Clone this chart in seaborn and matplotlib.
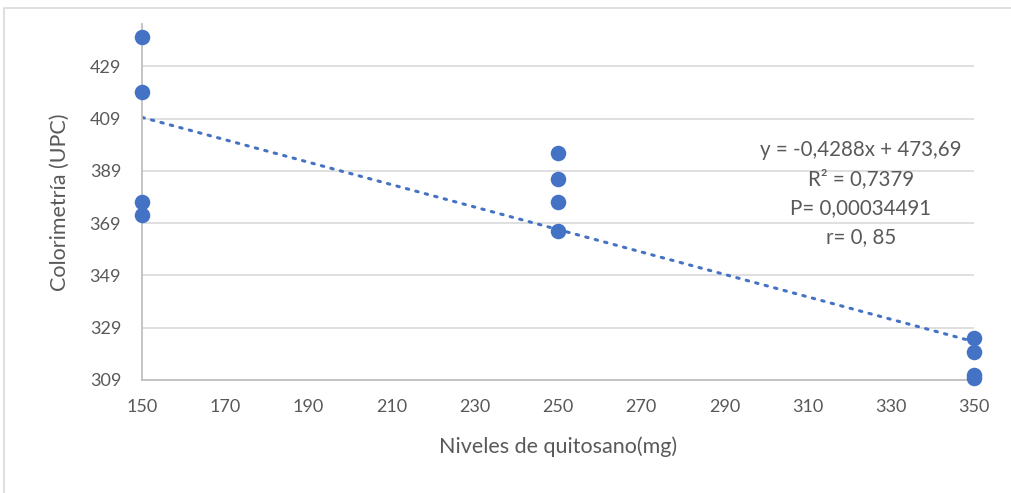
import numpy as np
import pandas as pd
import matplotlib
matplotlib.use("Agg")
import matplotlib.pyplot as plt
import seaborn as sns
from matplotlib.patches import Rectangle

# Chitosan levels (mg) and colorimetry readings (UPC)
niveles = [150, 150, 150, 150, 250, 250, 250, 250, 350, 350, 350, 350]
colorimetria = [440.2, 419.1, 377.1, 372.1, 395.9, 385.9, 377.0, 366.1,
                324.9, 319.8, 311.0, 309.6]

x_ticks = [150, 170, 190, 210, 230, 250, 270, 290, 310, 330, 350]
y_ticks = [309, 329, 349, 369, 389, 409, 429]

stats_lines = ["y = -0,4288x + 473,69", "R² = 0,7379", "P= 0,00034491", "r= 0, 85"]

df = pd.DataFrame({"x": niveles, "y": colorimetria})

sns.set_theme(style="white")
plt.rcParams["font.family"] = ["Lato", "DejaVu Sans"]

blue = "#4472C4"
grid_grey = "#D9D9D9"
text_grey = "#595959"

fig = plt.figure(figsize=(10.11, 4.93), dpi=100)
ax = fig.add_axes([142 / 1011, 1 - 380 / 493, (974 - 142) / 1011, (380 - 24.4) / 493])

sns.regplot(data=df, x="x", y="y", ax=ax, scatter=False, ci=None, truncate=True,
            line_kws=dict(color=blue, lw=2.2, linestyle=(0, (0.8, 2.4)),
                          dash_capstyle="round", zorder=2))
sns.scatterplot(data=df, x="x", y="y", ax=ax, s=125, color=blue,
                edgecolor=blue, linewidth=0, zorder=3, clip_on=False)

ax.set_xlim(150, 350)
ax.set_ylim(309, 445)
ax.set_xticks(x_ticks)
ax.set_yticks(y_ticks)
ax.yaxis.grid(True, color=grid_grey, lw=1.2)
ax.xaxis.grid(False)
ax.set_axisbelow(True)

for side in ["top", "right"]:
    ax.spines[side].set_visible(False)
for side in ["left", "bottom"]:
    ax.spines[side].set_color("#BFBFBF")
    ax.spines[side].set_linewidth(1.3)

ax.tick_params(axis="x", length=0, pad=14, labelsize=13, labelcolor=text_grey)
ax.tick_params(axis="y", length=0, pad=15, labelsize=13, labelcolor=text_grey)

ax.set_xlabel("Niveles de quitosano(mg)", fontsize=15.5, color=text_grey, labelpad=15)
ax.set_ylabel("Colorimetría (UPC)", fontsize=15.5, color=text_grey, labelpad=14)

# Regression statistics block
for i, line in enumerate(stats_lines):
    fig.text(861 / 1011, 1 - (150 + i * 29) / 493, line, ha="center", va="center",
             fontsize=14.8, color=text_grey)

# Chart area border
fig.patches.append(Rectangle((4 / 1011, -0.05), 1.05, 1.05 - 8 / 493,
                             transform=fig.transFigure, fill=False,
                             edgecolor=grid_grey, lw=1.2))

fig.savefig("out.png", dpi=100)
